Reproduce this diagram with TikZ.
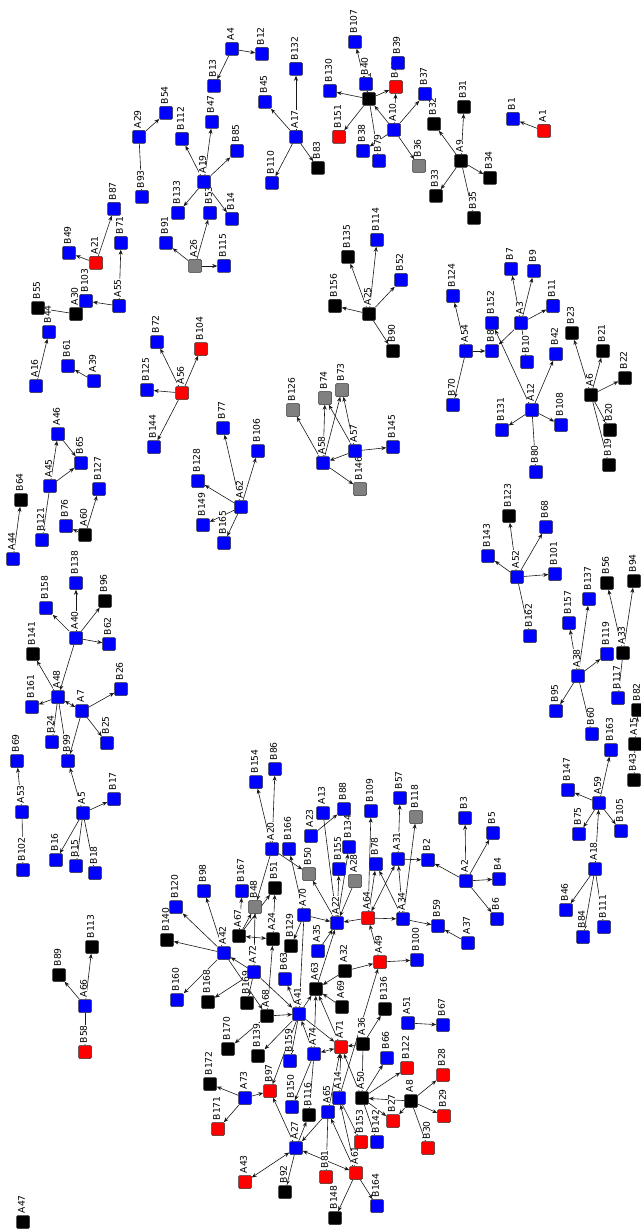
\documentclass[tikz,border=0pt]{standalone}
\usepackage{fontspec}
\newfontfamily\labfont{DejaVu Sans}
\usetikzlibrary{arrows.meta}
\pgfdeclarelayer{bglayer}
\pgfdeclarelayer{edgelayer}
\pgfdeclarelayer{labellayer}
\pgfsetlayers{bglayer,edgelayer,labellayer,main}
\definecolor{nb}{RGB}{0,0,255}
\definecolor{nr}{RGB}{255,0,0}
\definecolor{nk}{RGB}{0,0,0}
\definecolor{ng}{RGB}{128,128,128}
\tikzset{
  sq/.style={draw=black!80, rounded corners=1.3pt, minimum size=13pt, inner sep=0pt, line width=0.5pt},
  lab/.style={rotate=90, anchor=west, fill=white, inner sep=0.4pt, font=\labfont\fontsize{9.2}{9.2}\selectfont},
  ed/.style={draw=black!90, line width=0.6pt, -{Stealth[length=5pt,width=4pt]}},
  bi/.style={draw=black!90, line width=0.6pt, {Stealth[length=5pt,width=4pt]}-{Stealth[length=5pt,width=4pt]}}
}
\def\nodelist{A4/232/49/nb, B12/262/54/nb, B13/214/86/nb, B132/296/69/nb, B45/265/102/nb,
A17/296/137/nb, B110/272/183/nb, B83/318/168/nk, A29/139/137/nb, B54/166/113/nb,
B112/182/139/nb, B47/212/122/nb, B85/237/151/nb, A19/204/182/nb, B93/142/197/nb,
B133/178/213/nb, B53/210/213/nb, B14/232/219/nb, B87/114/209/nb, B49/69/253/nb,
A21/96/263/nr, B71/121/243/nb, B91/166/243/nb, A26/195/266/ng, B115/224/266/nb,
B103/86/301/nb, A55/119/306/nb, A30/76/314/nk, B44/49/332/nb, B55/38/308/nk,
A16/36/386/nb, B61/68/366/nb, A39/94/381/nb, B72/157/342/nb, B104/201/349/nr,
B125/147/390/nb, A56/182/393/nr, B144/154/447/nb, B107/355/42/nb, B130/330/91/nb,
A11/369/99/nk, B40/366/84/nb, B39/398/63/nb, B41/396/87/nr, B37/425/94/nb,
B151/339/137/nr, A10/394/130/nb, B38/363/151/nb, B79/379/161/nb, B36/419/166/ng,
B32/434/124/nk, B31/464/107/nk, A9/461/161/nk, B34/490/178/nk, B33/436/196/nk,
B35/474/218/nk, B1/513/119/nb, A1/544/131/nr, B135/348/257/nk, B114/377/240/nb,
B156/335/306/nk, A25/369/314/nk, B52/401/280/nb, B90/393/351/nk, B124/453/296/nb,
A54/466/351/nb, B8/492/351/nb, B152/492/323/nb, B7/511/269/nb, B9/534/271/nb,
A3/521/323/nb, B11/553/306/nb, B10/527/362/nb, B42/556/354/nb, B23/572/333/nk,
B21/603/351/nk, B22/625/378/nk, A6/591/395/nk, B70/453/405/nb, A12/532/410/nb,
B131/502/430/nb, B108/561/425/nb, B80/536/472/nb, B20/610/430/nk, B19/609/465/nk,
B126/293/410/ng, B74/325/398/ng, B73/342/390/ng, A58/323/463/nb, A57/355/451/nb,
B145/393/447/nb, B146/360/489/ng, B77/223/428/nb, B106/258/451/nb, B128/198/481/nb,
A62/241/507/nb, B149/203/525/nb, B165/224/543/nb, A46/58/434/nb, B65/81/463/nb,
A45/50/486/nb, B64/21/500/nk, A44/13/559/nb, B121/42/540/nb, B127/99/489/nb,
B76/66/526/nb, A60/85/535/nk, B123/509/516/nk, B68/546/527/nb, B143/488/556/nb,
A52/517/577/nb, B101/555/574/nb, B162/530/636/nb, B137/589/599/nb, B56/607/583/nk,
B94/634/581/nk, B157/569/623/nb, A38/578/676/nb, B119/607/654/nb, A33/623/653/nk,
B117/618/698/nb, B82/638/710/nk, B95/556/711/nb, B60/592/734/nb, B163/611/750/nb,
A15/635/744/nk, B43/634/780/nk, B147/568/790/nb, A59/599/803/nb, B75/579/834/nb,
B105/621/831/nb, A18/595/869/nb, B46/566/910/nb, B84/583/937/nb, B111/604/927/nb,
B158/46/608/nb, B138/76/583/nb, B96/105/601/nk, A40/76/638/nb, B62/109/644/nb,
B141/33/654/nk, A48/58/697/nb, B161/32/707/nb, A7/82/711/nb, B26/121/689/nb,
B25/107/743/nb, B24/52/742/nb, B99/68/761/nb, B69/17/761/nb, A53/22/812/nb,
A5/83/813/nb, B17/114/799/nb, B102/23/870/nb, B16/56/860/nb, B15/76/866/nb,
B18/95/873/nb, B113/92/947/nk, B89/59/975/nk, A66/85/1006/nb, B58/85/1052/nr,
A47/23/1222/nk, B154/256/782/nb, B86/275/769/nb, A20/272/849/nb, B166/289/849/nb,
A13/323/813/nb, B88/344/809/nb, B109/371/811/nb, B57/400/798/nb, B118/416/817/ng,
B3/465/818/nb, B5/493/833/nb, A23/311/836/nb, B134/349/847/nb, B155/339/869/nb,
B50/309/874/ng, A28/355/881/ng, B78/376/864/nb, A31/398/859/nb, B2/428/860/nb,
A2/466/881/nb, B4/499/879/nb, B6/497/919/nb, B120/176/907/nb, B98/204/891/nb,
B167/242/891/nb, B48/255/907/ng, B51/275/888/nk, A70/304/915/nb, A22/337/923/nb,
A64/368/918/nr, A34/403/919/nb, B59/438/926/nb, A37/468/943/nb, B140/167/940/nk,
A67/239/936/nk, A24/273/939/nk, A42/224/953/nb, B129/291/946/nk, A35/318/951/nb,
A49/380/962/nr, B100/417/960/nb, A72/254/972/nb, B63/285/979/nb, A63/316/989/nk,
A32/345/971/nk, A69/342/1007/nk, B160/177/1000/nb, B168/208/1002/nk, B169/247/1003/nk,
A68/267/1016/nk, A41/299/1014/nb, B136/385/1009/nk, A51/408/1023/nb, B67/443/1025/nb,
B170/228/1049/nk, B139/258/1056/nk, B159/290/1061/nb, A74/314/1054/nb, A71/341/1047/nr,
A36/363/1044/nk, B66/387/1058/nb, B122/407/1068/nr, B28/443/1075/nr, A8/411/1101/nk,
B29/444/1116/nr, A50/362/1098/nk, B27/393/1121/nr, B30/428/1148/nr, B172/210/1084/nk,
A73/245/1098/nb, B97/270/1091/nr, B150/292/1107/nb, B116/309/1115/nk, A14/339/1098/nb,
A65/328/1112/nb, B153/361/1142/nr, B142/377/1142/nb, B171/218/1129/nr, A27/296/1148/nb,
A61/356/1173/nr, B81/326/1177/nr, A43/245/1182/nr, B92/285/1192/nk, B164/377/1206/nb,
B148/335/1218/nk}
\def\arrowlist{A4/B12, A4/B13, A17/B132, A17/B45, A17/B110, A17/B83, A29/B54, A29/B93,
A19/B112, A19/B47, A19/B85, A19/B133, A19/B14, A26/B53, A26/B91, A26/B115, A21/B87, A21/B49,
A55/B71, A55/B103, A30/B55, A16/B44, A39/B61, A56/B72, A56/B104, A56/B125, A56/B144,
A11/B107, A11/B130, A11/B41, A11/B151, A11/B79, A11/B40, A10/A11,
A10/B37, A10/B36, A10/B41, A10/B38, A9/B32, A9/B31, A9/B34, A9/B33, A9/B35, A1/B1,
A25/B135, A25/B114, A25/B156, A25/B52, A25/B90, A54/B124, A54/B8, A54/B70,
A3/B7, A3/B9, A3/B11, A3/B8, A3/B10, A12/B152, A12/B42, A12/B131, A12/B108, A12/B80,
A6/B23, A6/B21, A6/B22, A6/B20, A6/B19, A58/B126, A58/B74, A58/B73, A58/B146,
A57/A58, A57/B145, A57/B74, A57/B73, A62/B77, A62/B106, A62/B128, A62/B149, A62/B165,
A45/A46, A45/B65, A46/B65, A45/B121, A44/B64, A60/B127, A60/B76,
A52/B143, A52/B123, A52/B68, A52/B101, A52/B162, A38/B137, A38/B157, A38/B119, A38/B95, A38/B60,
A33/B56, A33/B94, A33/B117, A15/B82, A15/B43, A59/B163, A59/B147, A59/B75, A59/B105,
A18/A59, A18/B46, A18/B84, A18/B111, A40/B158, A40/B138, A40/B96, A40/B62, A40/A48,
A48/B141, A48/B161, A48/B99, A48/B24, A7/B26, A7/B25, A7/B99,
A5/B99, A5/B17, A5/B16, A5/B15, A5/B18, A53/B69, A53/B102, A66/B113, A66/B89, A66/B58,
A20/B154, A20/B86, A20/B50, A20/B48, A70/B166, A70/B129, A70/A41, A70/A22,
A23/B88, A13/A22, A22/B155, A22/B50, A22/B134, A28/A22,
A64/A22, A64/A34, A64/B78, A64/B109, A34/B59, A34/B118, A34/A31, A34/B78, A31/B2, A31/B57,
A2/B2, A2/B3, A2/B5, A2/B4, A2/B6, A37/B59, A49/A64, A49/B100, A32/A49, A14/A49,
A35/A22, A63/A22, A32/A63, A69/A63, A71/A63, A41/A63, A74/A63,
A42/B120, A42/B140, A42/B160, A42/B98, A72/A42, A72/A41, A42/A68,
A67/B48, A67/B51, A67/B167, A24/B51, A68/A24, A72/B48, A72/B168, A72/B169,
A68/A41, A68/B170, A41/B139, A41/B159, A41/B97, A41/B63, A41/A71,
A74/A41, A74/B150, A74/B116, A36/B136, A36/A71, A36/A50,
A50/B66, A50/B122, A50/B27, A50/B142, A50/A71, A8/A50, A8/B28, A8/B29, A8/B27, A8/B30,
A14/A71, A14/B153, A65/A71, A65/B81, A65/A27, A61/A14, A61/A65, A61/B148, A61/B164,
A27/B97, A27/B116, A27/B92, A73/B172, A73/B171, A73/B97, A51/B67}
\def\bilist{A48/A7, A64/A31, A67/A24, A74/A71, A61/A27, A27/A43}
\begin{document}
\begin{tikzpicture}[x=1pt,y=-1pt]
\useasboundingbox (0,0) rectangle (640,1230);
\begin{pgfonlayer}{bglayer}
\fill[white] (0,0) rectangle (640,1230);
\end{pgfonlayer}
\foreach \n/\px/\py/\c in \nodelist {\node[sq,fill=\c] (\n) at (\px,\py) {};}
\begin{pgfonlayer}{labellayer}
\foreach \n/\px/\py/\c in \nodelist {\node[lab] at (\px-1.5,\py-8.2) {\n};}
\end{pgfonlayer}
\begin{pgfonlayer}{edgelayer}
\foreach \s/\t in \arrowlist {\draw[ed] (\s) -- (\t);}
\foreach \s/\t in \bilist {\draw[bi] (\s) -- (\t);}
\end{pgfonlayer}
\end{tikzpicture}
\end{document}
